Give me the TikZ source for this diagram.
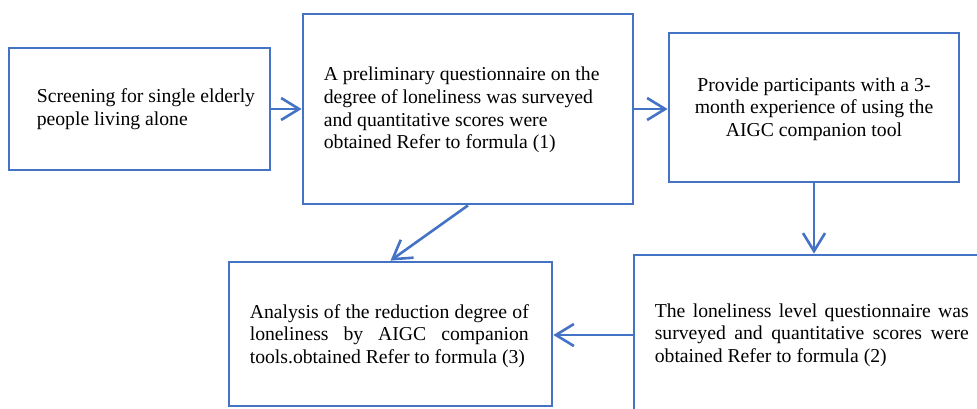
\documentclass[tikz,border=0pt]{standalone}
\usepackage{fontspec}
\setmainfont{Liberation Serif}
\usetikzlibrary{arrows.meta}
\definecolor{boxblue}{RGB}{68,114,196}
\begin{document}
\begin{tikzpicture}[x=1pt,y=-1pt,
  box/.style={draw=boxblue,line width=2.8pt,inner sep=0pt,fill=white},
  txt/.style={inner sep=0pt,font=\fontsize{19.7}{22.7}\selectfont,text=black},
  link/.style={draw=boxblue,line width=2.6pt,-{Straight Barb[length=18pt,width=22pt]}}]
\useasboundingbox (0,0) rectangle (977,408);
\clip (0,0) rectangle (977,408);
% boxes
\node[box, minimum width=261pt, minimum height=122pt] (b1) at (139.5,109) {};
\node[box, minimum width=330pt, minimum height=190pt] (b2) at (468,109) {};
\node[box, minimum width=290pt, minimum height=149pt] (b3) at (814,107.5) {};
\node[box, minimum width=323pt, minimum height=144pt] (b4) at (390.5,334) {};
\node[box, minimum width=358pt, minimum height=160pt] (b5) at (813,335) {};
% texts
\node[txt, anchor=west, align=left] (t1) at ([xshift=29pt]b1.west)
  {Screening for single elderly\\people living alone};
\node[txt, anchor=west, align=left] (t2) at ([xshift=22pt,yshift=-1pt]b2.west)
  {A preliminary questionnaire on the\\degree of loneliness was surveyed\\and quantitative scores were\\obtained Refer to formula (1)};
\node[txt, align=center] (t3) at ([yshift=-1.5pt]b3.center)
  {Provide participants with a 3-\\month experience of using the\\AIGC companion tool};
\node[txt, anchor=west, align=left] (t4) at ([xshift=22pt,yshift=-2pt]b4.west)
  {\makebox[279pt][s]{Analysis of the reduction degree of}\\
   \makebox[279pt][s]{loneliness by AIGC companion}\\
   tools.obtained Refer to formula (3)};
\node[txt, anchor=west, align=left] (t5) at ([xshift=22pt]b5.west)
  {\makebox[314pt][s]{The loneliness level questionnaire was}\\
   \makebox[314pt][s]{surveyed and quantitative scores were}\\
   obtained Refer to formula (2)};
% connectors
\draw[link] (b1.east) -- (b2.west);
\draw[link] (b2.east) -- (b3.west |- b2.east);
\draw[link] (b3.south) -- (b3.south |- b5.north);
\draw[link] (b2.south) -- (b4.north);
\draw[link] (b5.west) -- (b5.west -| b4.east);
\end{tikzpicture}
\end{document}
